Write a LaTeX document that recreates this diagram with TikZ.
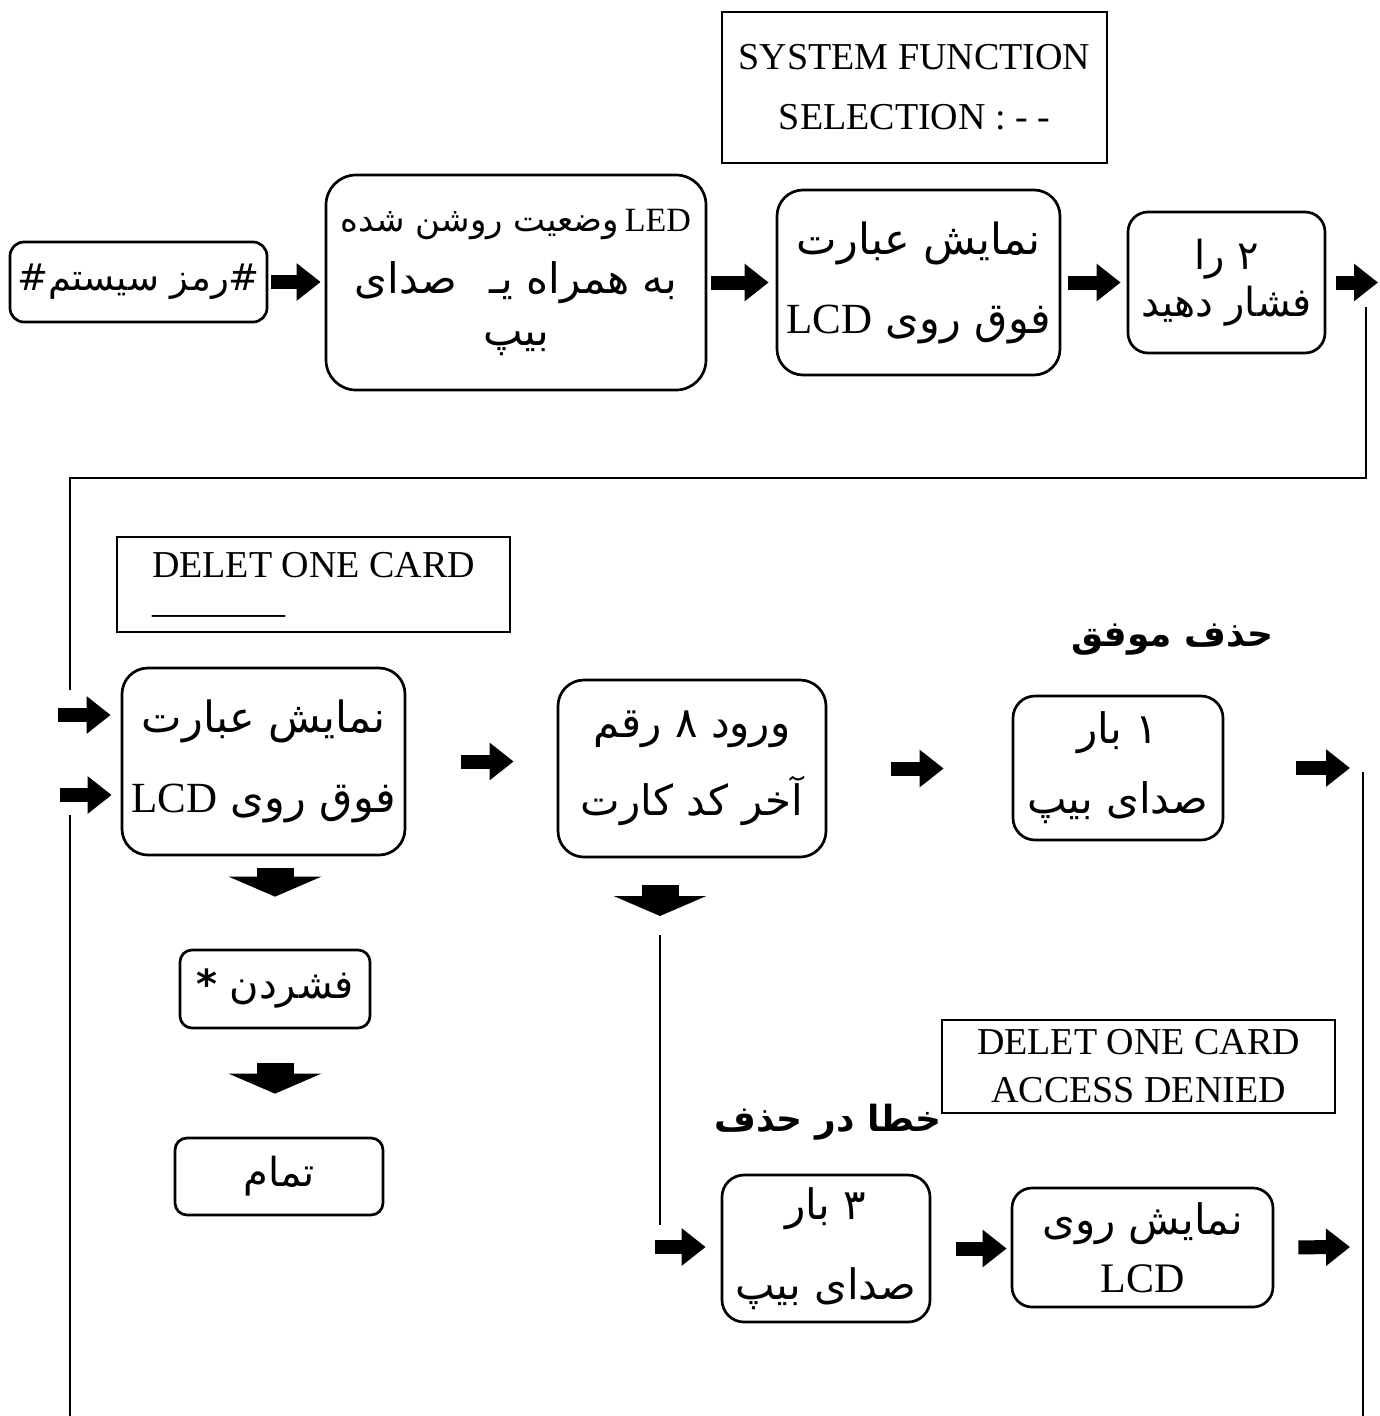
\documentclass[tikz,border=0pt]{standalone}
\usepackage{fontspec}
\setmainfont{Liberation Serif}
\newfontfamily\fa[Script=Arabic]{DejaVu Sans}
\TeXXeTstate=1
\usetikzlibrary{arrows.meta}
\newcommand{\fatext}[1]{{\fa\beginR #1\endR}}
\newcommand{\lat}[1]{\beginL{\rmfamily #1}\endL}

\begin{document}
\begin{tikzpicture}[x=1pt, y=-1pt,
    box/.style={draw, line width=2.7pt, rounded corners=22pt, inner sep=0pt, align=center},
    screen/.style={draw, line width=2.5pt, inner sep=0pt},
    fat/.style={line width=14pt, -{Triangle[length=24pt, width=36pt]}},
    fatdown/.style={line width=37pt, -{Triangle[length=20pt, width=92pt]}},
    link/.style={line width=2.5pt},
    sz/.style 2 args={font=\fontsize{#1}{#2}\selectfont},
    bold/.style={font=\fontsize{36}{40}\selectfont\bfseries},
  ]
  \useasboundingbox (0,0) rectangle (1380,1416);

  %% first row
  \node[box, rounded corners=14pt, minimum width=257pt, minimum height=80pt, sz={37}{40}] (pass) at (138.5,282) {\fatext{\#رمز سیستم\#}};
  \node[box, rounded corners=30pt, minimum width=380pt, minimum height=215pt, sz={42}{52}] (led) at (516,282.5)
    {{\fontsize{34}{40}\selectfont\fatext{\lat{LED}\,وضعیت روشن شده}}\\[10pt]
     \fatext{به همراه یـ\hspace{32pt}صدای}\\
     \fatext{بیپ}};
  \node[screen, minimum width=385pt, minimum height=151pt, align=center, sz={38}{60}] (sys) at (914.5,87.5) {SYSTEM FUNCTION\\SELECTION : - -};
  \node[box, rounded corners=26pt, minimum width=283pt, minimum height=185pt, sz={43}{79}] (msg) at (918.5,282.5) {\fatext{نمایش عبارت}\\ \fatext{فوق روی \lat{LCD}}};
  \node[box, rounded corners=20pt, minimum width=197pt, minimum height=141pt, sz={40}{47}] (two) at (1226.5,282.5) {\fatext{۲ را}\\ \fatext{فشار دهید}};
  \coordinate (out) at (1378,282.5);

  \draw[fat, shorten <=3pt, shorten >=4pt] (pass.east) -- (pass.east -| led.west);
  \draw[fat, shorten <=4pt, shorten >=7pt] (led.east) -- (led.east -| msg.west);
  \draw[fat, shorten <=7pt, shorten >=6pt] (msg.east) -- (msg.east -| two.west);
  \draw[fat, shorten <=10pt] (two.east) -- (out);

  %% loop back
  \coordinate (turn) at (1366,307);
  \coordinate (back) at (70,690);
  \draw[link] (turn) -- (1366,478) -- (70,478) -- (back);

  %% second row
  \node[screen, minimum width=393pt, minimum height=95pt, align=left, sz={38}{45}] (del) at (313.5,584.5) {DELET ONE CARD\\[-10pt]\_\_\_\_\_\_\_};
  \node[box, rounded corners=26pt, minimum width=283pt, minimum height=187pt, sz={43}{80}] (msgb) at (263.5,761.5) {\fatext{نمایش عبارت}\\ \fatext{فوق روی \lat{LCD}}};
  \node[box, rounded corners=26pt, minimum width=268pt, minimum height=177pt, sz={42}{78}] (code) at (692,768.5) {\fatext{ورود ۸ رقم}\\ \fatext{آخر کد کارت}};
  \node[box, rounded corners=22pt, minimum width=210pt, minimum height=144pt, sz={42}{70}] (okbeep) at (1118,768) {\fatext{۱ بار}\\ \fatext{صدای بیپ}};
  \node[bold] (oklabel) at (1172,640) {\fatext{حذف موفق}};

  \coordinate (inA) at (58,715);
  \coordinate (inB) at (60,795);
  \coordinate (exitA) at (1350,768);
  \draw[fat, shorten >=10pt] (inA) -- (inA -| msgb.west);
  \draw[fat, shorten >=9pt] (inB) -- (inB -| msgb.west);
  \draw[fat, shorten <=55pt, shorten >=43pt] (msgb.east) -- (msgb.east -| code.west);
  \draw[fat, shorten <=64pt, shorten >=68pt] (code.east) -- (code.east -| okbeep.west);
  \draw[fat, shorten <=72pt] (okbeep.east) -- (exitA);

  %% star column
  \node[box, rounded corners=12pt, minimum width=190pt, minimum height=78pt, sz={40}{44}] (star) at (275,989) {\fatext{فشردن \textbf{*}}};
  \node[box, rounded corners=12pt, minimum width=208pt, minimum height=77pt, sz={40}{44}] (done) at (279,1176.5) {\fatext{تمام}};
  \draw[fatdown, shorten <=12pt, shorten >=52pt] (star.north |- msgb.south) -- (star.north);
  \draw[fatdown, shorten <=34pt, shorten >=43pt] (star.south) -- (star.south |- done.north);

  %% failed delete
  \coordinate (drop) at (660,935);
  \coordinate (dropend) at (660,1225);
  \coordinate (inC) at (655,1247);
  \coordinate (exitB) at (1350,1247);
  \node[screen, minimum width=393pt, minimum height=93pt, align=center, sz={38}{48}] (denied) at (1138.5,1066.5) {DELET ONE CARD\\ACCESS DENIED};
  \node[bold] (faillabel) at (828,1122) {\fatext{خطا در حذف}};
  \node[box, rounded corners=22pt, minimum width=208pt, minimum height=147pt, sz={42}{80}] (failbeep) at (826,1248.5) {\fatext{۳ بار}\\ \fatext{صدای بیپ}};
  \node[box, rounded corners=20pt, minimum width=261pt, minimum height=119pt, sz={42}{58}] (showlcd) at (1142.5,1247.5) {\fatext{نمایش روی}\\LCD};

  \draw[fatdown, shorten <=27pt, shorten >=19pt] (drop |- code.south) -- (drop);
  \draw[link] (drop) -- (dropend);
  \draw[fat, shorten >=15pt] (inC) -- (inC -| failbeep.west);
  \draw[fat, shorten <=25pt, shorten >=4pt] (failbeep.east) -- (failbeep.east -| showlcd.west);
  \draw[fat, shorten <=24pt] (showlcd.east) -- (exitB);

  %% side lines
  \coordinate (leftup) at (70,815);
  \coordinate (rightdown) at (1363,772);
  \draw[link] (leftup) -- (70,1416);
  \draw[link] (rightdown) -- (1363,1416);
\end{tikzpicture}
\end{document}
